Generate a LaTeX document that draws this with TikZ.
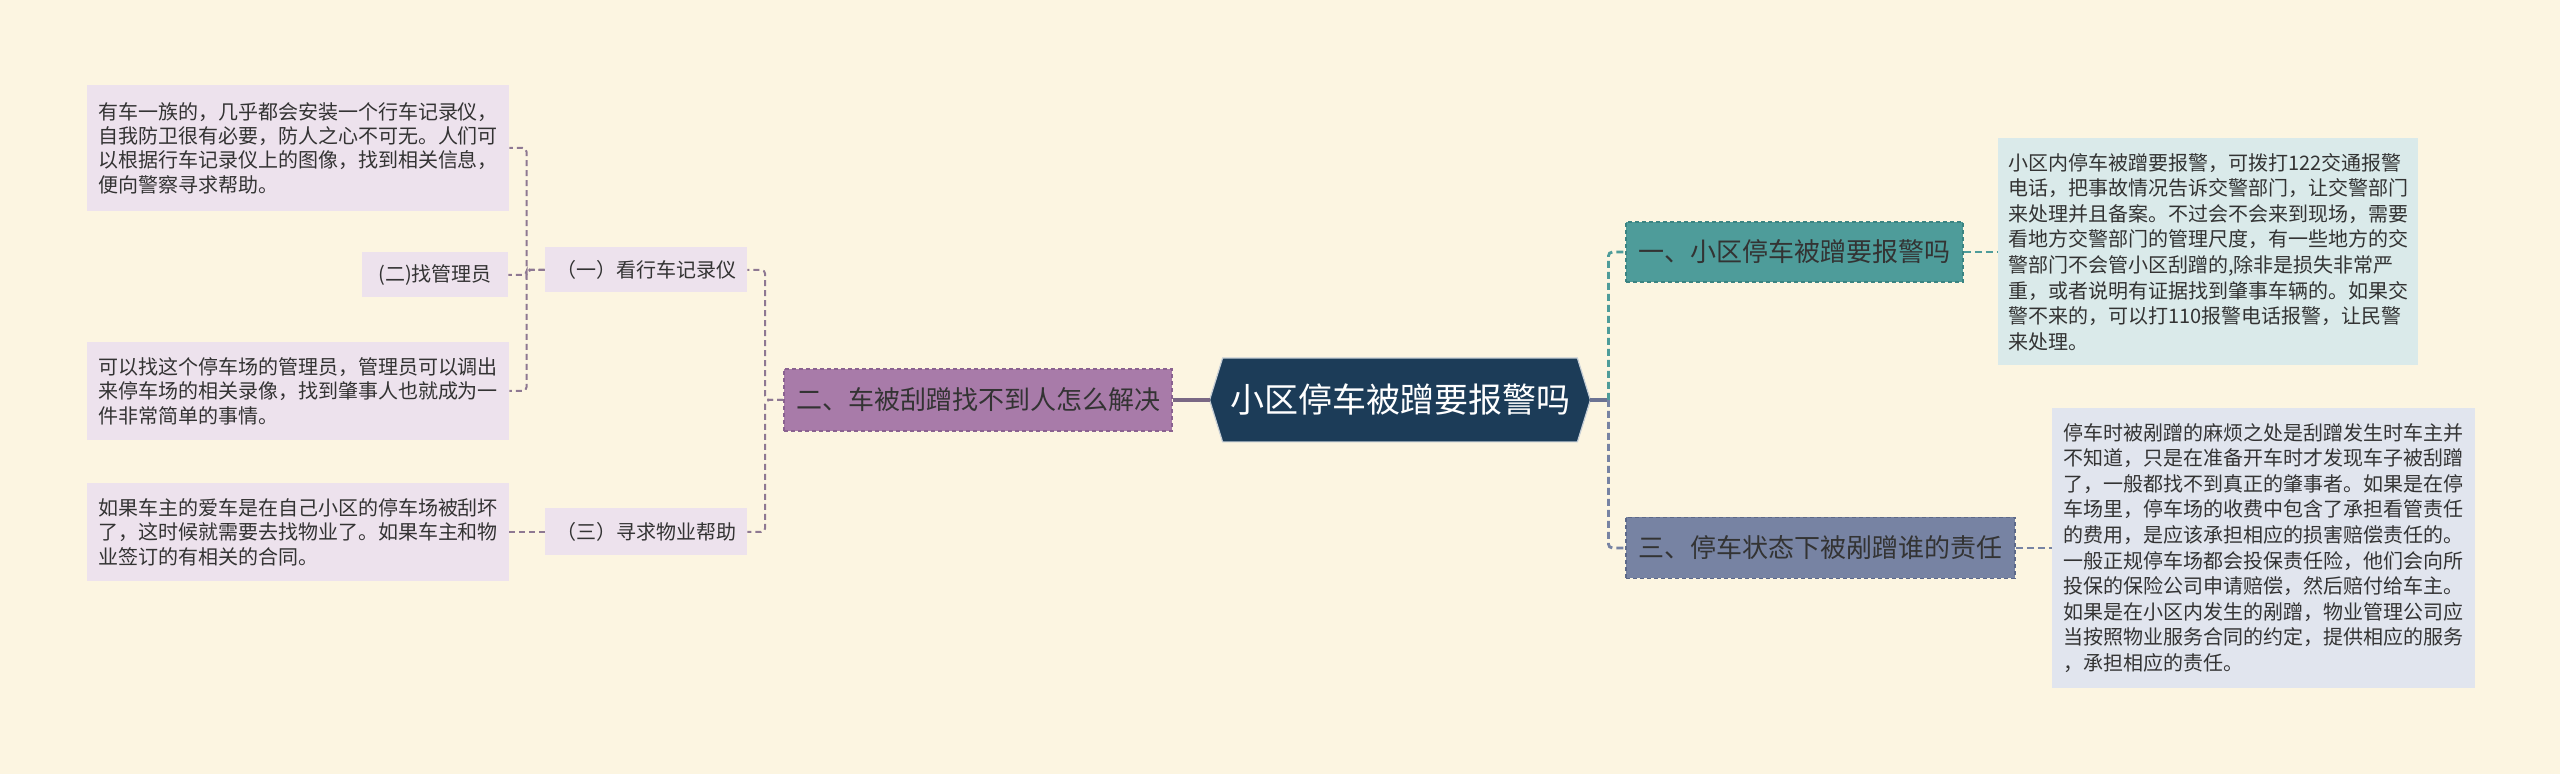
\documentclass[tikz,border=0pt]{standalone}
\usepackage{fontspec}
\setmainfont{Noto Sans CJK SC}
\usetikzlibrary{backgrounds}

\definecolor{bgcream}{HTML}{FCF5E1}
\definecolor{rootfill}{HTML}{1C3C58}
\definecolor{q2fill}{HTML}{A87BA9}
\definecolor{q2line}{HTML}{8A6290}
\definecolor{q1fill}{HTML}{4E9C9A}
\definecolor{q1line}{HTML}{3B8482}
\definecolor{q3fill}{HTML}{7783A3}
\definecolor{q3line}{HTML}{5D6989}
\definecolor{subfill}{HTML}{EDE2ED}
\definecolor{r1fill}{HTML}{DAEAEA}
\definecolor{r3fill}{HTML}{E1E5EE}
\definecolor{leftline}{HTML}{8E7892}
\definecolor{rootline}{HTML}{7A6884}
\definecolor{rightline}{HTML}{6C7393}
\definecolor{darktext}{HTML}{333333}

\tikzset{
  rootbox/.style={rectangle, minimum width=190pt, minimum height=41.5pt, inner sep=0pt,
    text=white, font=\fontsize{17pt}{20pt}\selectfont},
  topicbox/.style={rectangle, draw, dash pattern=on 2pt off 1.5pt, line width=0.8pt,
    inner sep=0pt, text=darktext, font=\fontsize{13pt}{16pt}\selectfont},
  subbox/.style={rectangle, fill=subfill, inner sep=0pt, minimum height=22.5pt,
    text=darktext, font=\fontsize{10pt}{12pt}\selectfont},
  leafbox/.style={rectangle, align=left, inner sep=0pt, text=darktext,
    font=\fontsize{10pt}{12.2pt}\selectfont},
  rleafbox/.style={leafbox, font=\fontsize{10pt}{12.8pt}\selectfont},
  conn/.style={line width=1pt, dash pattern=on 3pt off 2pt, rounded corners=2pt},
  connr/.style={line width=1.4pt, dash pattern=on 3.5pt off 2pt, rounded corners=2pt},
  solidlink/.style={line width=1.6pt}
}

\begin{document}
\begin{tikzpicture}[x=0.5pt,y=-0.5pt]
  % Background
  \begin{scope}[on background layer]
    \fill[bgcream] (0,0) rectangle (2560,774);
  \end{scope}
  \useasboundingbox (0,0) rectangle (2560,774);

  % Central topic
  \node[rootbox] (root) at (1400,400) {小区停车被蹭要报警吗};
  \begin{scope}[on background layer]
    \filldraw[fill=rootfill, draw=white!75!rootfill, line width=0.6pt]
      (root.west) -- ([xshift=6.5pt]root.north west) -- ([xshift=-6.5pt]root.north east)
      -- (root.east) -- ([xshift=-6.5pt]root.south east) -- ([xshift=6.5pt]root.south west) -- cycle;
  \end{scope}

  % Main topics
  \node[topicbox, fill=q2fill, draw=q2line, minimum width=194pt, minimum height=31pt]
    (q2) at (978,400) {二、车被刮蹭找不到人怎么解决};
  \node[topicbox, fill=q1fill, draw=q1line, minimum width=168.5pt, minimum height=30pt]
    (q1) at (1794.5,252) {一、小区停车被蹭要报警吗};
  \node[topicbox, fill=q3fill, draw=q3line, minimum width=194.5pt, minimum height=30.5pt]
    (q3) at (1820.5,548) {三、停车状态下被剐蹭谁的责任};

  % Sub topics
  \node[subbox, minimum width=101pt] (s1) at (646,270) {（一）看行车记录仪};
  \node[subbox, minimum width=101pt, minimum height=23.5pt] (s3) at (646,532) {（三）寻求物业帮助};
  \node[subbox, minimum width=73pt] (s2) at (435,275) {(二)找管理员};

  % Left leaves
  \node[leafbox, fill=subfill, minimum width=211pt, minimum height=63pt] (l1) at (298,148)
    {有车一族的，几乎都会安装一个行车记录仪，\\自我防卫很有必要，防人之心不可无。人们可\\以根据行车记录仪上的图像，找到相关信息，\\便向警察寻求帮助。};
  \node[leafbox, fill=subfill, minimum width=211pt, minimum height=49pt] (l2) at (298,391)
    {可以找这个停车场的管理员，管理员可以调出\\来停车场的相关录像，找到肇事人也就成为一\\件非常简单的事情。};
  \node[leafbox, fill=subfill, minimum width=211pt, minimum height=49pt] (l3) at (298,532)
    {如果车主的爱车是在自己小区的停车场被刮坏\\了，这时候就需要去找物业了。如果车主和物\\业签订的有相关的合同。};

  % Right leaves
  \node[rleafbox, fill=r1fill, minimum width=210pt, minimum height=113.5pt] (r1) at (2208,252)
    {小区内停车被蹭要报警，可拨打122交通报警\\电话，把事故情况告诉交警部门，让交警部门\\来处理并且备案。不过会不会来到现场，需要\\看地方交警部门的管理尺度，有一些地方的交\\警部门不会管小区刮蹭的,除非是损失非常严\\重，或者说明有证据找到肇事车辆的。如果交\\警不来的，可以打110报警电话报警，让民警\\来处理。};
  \node[rleafbox, fill=r3fill, minimum width=211.5pt, minimum height=140pt] (r3) at (2263.5,548)
    {停车时被剐蹭的麻烦之处是刮蹭发生时车主并\\不知道，只是在准备开车时才发现车子被刮蹭\\了，一般都找不到真正的肇事者。如果是在停\\车场里，停车场的收费中包含了承担看管责任\\的费用，是应该承担相应的损害赔偿责任的。\\一般正规停车场都会投保责任险，他们会向所\\投保的保险公司申请赔偿，然后赔付给车主。\\如果是在小区内发生的剐蹭，物业管理公司应\\当按照物业服务合同的约定，提供相应的服务\\，承担相应的责任。};

  % Left branch
  \draw[solidlink, draw=rootline] (root.west) -- (q2.east);
  \draw[conn, draw=leftline] (q2.west) -- ++(-18,0) |- (s1.east);
  \draw[conn, draw=leftline] (q2.west) -- ++(-18,0) |- (s3.east);
  \draw[conn, draw=leftline] (s1.west) -- ++(-18,0) |- (l1.east);
  \draw[conn, draw=leftline] (s1.west) -- ++(-18,0) |- (s2.east);
  \draw[conn, draw=leftline] (s1.west) -- ++(-18,0) |- (l2.east);
  \draw[conn, draw=leftline] (s3.west) -- (l3.east);

  % Right branch
  \coordinate (rj) at ([xshift=9pt]root.east);
  \draw[solidlink, draw=rightline] (root.east) -- (rj);
  \draw[connr, draw=q1fill] (rj) |- (q1.west);
  \draw[connr, draw=q3fill] (rj) |- (q3.west);
  \draw[connr, draw=q1fill] (q1.east) -- (r1.west);
  \draw[connr, draw=q3fill] (q3.east) -- (r3.west);
\end{tikzpicture}
\end{document}
